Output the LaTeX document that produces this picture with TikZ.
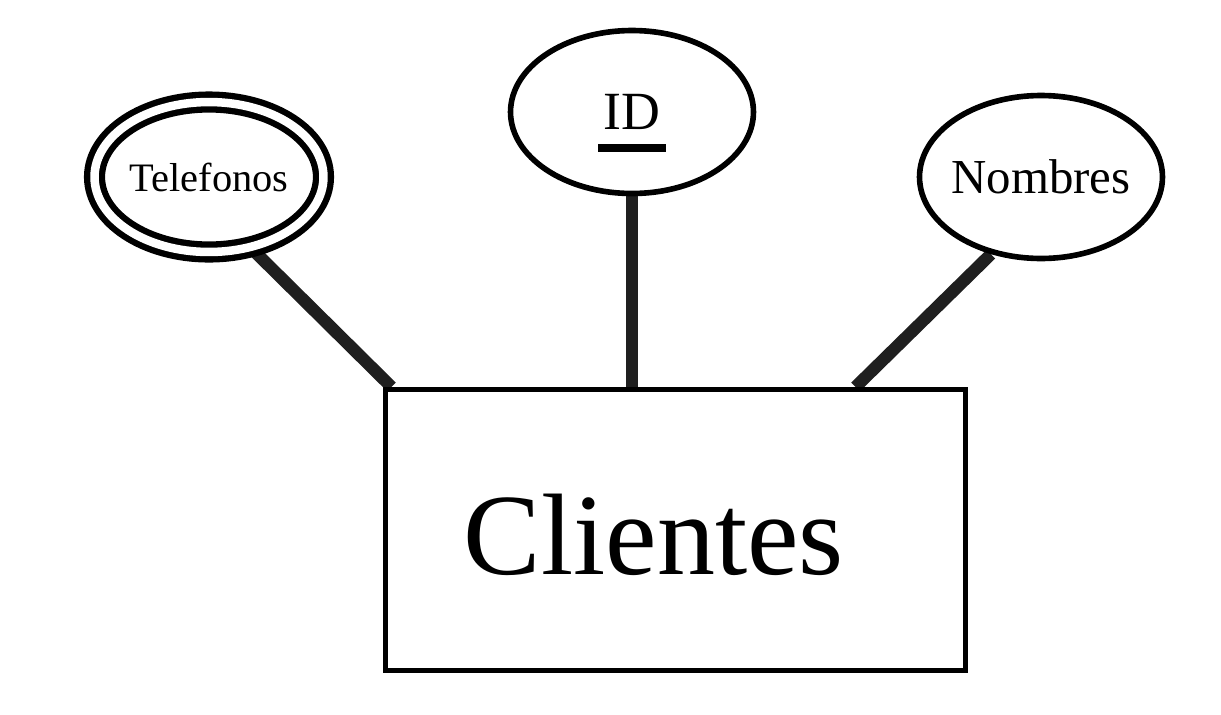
\documentclass[tikz,border=0pt]{standalone}
\usepackage{fontspec}
\setmainfont{Liberation Serif}
\usetikzlibrary{shapes,positioning,backgrounds}

\tikzset{
  attr/.style={draw, ellipse, line width=3.2pt, fill=white, inner sep=0pt,
    minimum width=4.86cm, minimum height=3.26cm},
  multiattr/.style={attr, double=white, double distance=0.17cm, line width=3.6pt,
    minimum width=4.58cm, minimum height=3.0cm},
  entity/.style={draw, rectangle, line width=2.9pt, fill=white,
    minimum width=11.6cm, minimum height=5.62cm},
  link/.style={line width=7pt, draw=black!88}
}

\begin{document}
\begin{tikzpicture}[x=0.02cm, y=-0.02cm]
    \useasboundingbox (0,0) rectangle (1221,714);

    \node[entity] (cli) at (675.5,530) {};
    \node[font=\fontsize{66}{66}\selectfont, anchor=base] (clitxt) at (654,574) {Clientes};

    \node[multiattr, font=\fontsize{23}{24}\selectfont] (tel) at (209,177) {\makebox[0pt]{Telefonos}};
    \node[attr, font=\fontsize{30.6}{32}\selectfont] (id) at (632,112) {\makebox[0pt]{ID}};
    \node[attr, font=\fontsize{27.8}{30}\selectfont] (nom) at (1041,177) {\makebox[0pt]{Nombres}};

    % key underline
    \fill ([xshift=-0.68cm, yshift=-0.64cm]id.center) rectangle ([xshift=0.68cm, yshift=-0.80cm]id.center);

    \begin{scope}[on background layer]
        \draw[link] (tel.-59) -- ([xshift=0.17cm]cli.north west);
        \draw[link] (id.south) -- (id.south |- cli.north);
        \draw[link] (nom.-123) -- ([xshift=-2.25cm]cli.north east);
    \end{scope}
\end{tikzpicture}
\end{document}
